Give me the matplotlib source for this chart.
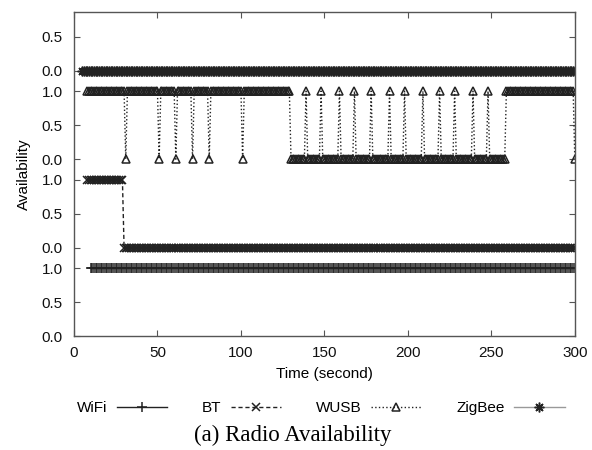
import numpy as np
import matplotlib.pyplot as plt
from matplotlib.ticker import FixedLocator

plt.rcParams['font.family'] = ['Liberation Sans', 'DejaVu Sans']

# availability per radio, one sample per second, written as runs (start, end, value)
wifi_runs = [(10, 300, 1)]
bt_runs = [(8, 29, 1), (30, 300, 0)]
wusb_runs = [(8, 129, 1), (130, 258, 0), (259, 299, 1), (300, 300, 0)]
zigbee_runs = [(5, 300, 0)]
# single-sample flips of the WUSB state (drops while up, spikes while down)
wusb_dips = [31, 51, 61, 71, 81, 101]
wusb_peaks = [139, 148, 159, 168, 178, 189, 198, 209, 219, 228, 239, 248]

x_ticks = [0, 50, 100, 150, 200, 250, 300]
band_ticks = [0.0, 0.5, 1.0]


def expand(runs, flips=()):
    t = np.arange(runs[0][0], runs[-1][1] + 1)
    v = np.zeros(len(t))
    for a, b, val in runs:
        v[(t >= a) & (t <= b)] = val
    for f in flips:
        v[t == f] = 1 - v[t == f]
    return t, v


fig = plt.figure(figsize=(5.92, 4.5), dpi=100)
ax = fig.add_axes([0.125, 0.253, 0.846, 0.72])

gap = 1.3  # each radio gets its own 0..1 band, stacked upward
series = [
    ("WiFi", expand(wifi_runs), dict(ls='-', marker='+', ms=6.5, color='#222222')),
    ("BT", expand(bt_runs), dict(ls=(0, (3, 2)), marker='x', ms=6, color='#222222')),
    ("WUSB", expand(wusb_runs, wusb_dips + wusb_peaks),
     dict(ls=':', marker='^', ms=5.5, color='#222222', mfc='none')),
    ("ZigBee", expand(zigbee_runs),
     dict(ls='-', marker=(8, 2, 0), ms=7, color='#999999', mec='#222222')),
]

yt, yl = [], []
handles = []
for i, (name, (t, v), style) in enumerate(series):
    off = i * gap
    h, = ax.plot(t, v + off, lw=1, mew=1.1, label=name, **style)
    handles.append(h)
    for tk in band_ticks:
        if off + tk < 4.76:
            yt.append(off + tk)
            yl.append(f"{tk:.1f}")

ax.set_xlim(0, 300)
ax.set_ylim(0, 4.76)
ax.xaxis.set_major_locator(FixedLocator(x_ticks))
ax.set_yticks(yt)
ax.set_yticklabels(yl)
ax.tick_params(direction='in', length=4, top=True, right=True, labelsize=11,
               color='#555555', labelcolor='#111111')
ax.tick_params(axis='x', pad=7)
ax.tick_params(axis='y', pad=8)
for s in ax.spines.values():
    s.set_color('#555555')
    s.set_linewidth(1)

ax.set_xlabel("Time (second)", fontsize=11, labelpad=5)
ax.set_ylabel("Availability", fontsize=11, labelpad=8)

fig.legend(handles=handles, loc='center', bbox_to_anchor=(0.542, 0.093), ncol=4,
           frameon=False, markerfirst=False, numpoints=1, handlelength=3.3,
           handletextpad=0.6, columnspacing=2.3, fontsize=11)

fig.text(0.495, 0.033, "(a) Radio Availability", ha='center', va='center',
         family=['Liberation Serif', 'DejaVu Serif'], fontsize=16.5)

fig.savefig("out.png", dpi=100)
